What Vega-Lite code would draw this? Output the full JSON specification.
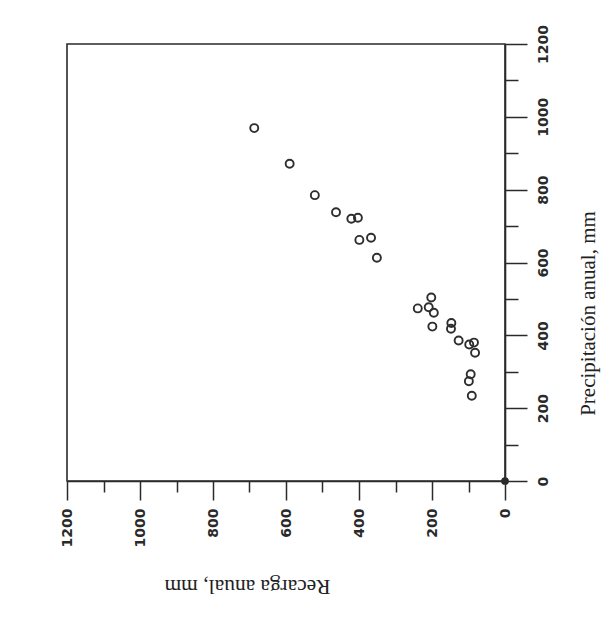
{
  "$schema": "https://vega.github.io/schema/vega-lite/v6.json",
  "width": 438,
  "height": 437,
  "autosize": "none",
  "padding": {"left": 67, "top": 44, "right": 104, "bottom": 143},
  "background": "white",
  "config": {"view": {"stroke": "#2a2a2a", "strokeWidth": 1.6}},
  "encoding": {
    "x": {
      "field": "recarga",
      "type": "quantitative",
      "scale": {"domain": [0, 1200], "reverse": true, "nice": false, "zero": true},
      "axis": {
        "orient": "bottom",
        "values": [0, 100, 200, 300, 400, 500, 600, 700, 800, 900, 1000, 1100, 1200],
        "format": "d",
        "labelExpr": "datum.value % 200 === 0 ? datum.label : ''",
        "labelAngle": 270,
        "labelAlign": "right",
        "labelBaseline": "middle",
        "labelPadding": 8,
        "labelFont": "DejaVu Sans",
        "labelFontSize": 14,
        "labelFontWeight": "bold",
        "labelColor": "#2a2a2a",
        "tickSize": {"condition": {"test": "datum.value % 200 === 0", "value": 19}, "value": 11},
        "tickColor": "#2a2a2a",
        "tickWidth": 1.5,
        "domainColor": "#2a2a2a",
        "domainWidth": 1.6,
        "grid": false,
        "title": "Recarga anual, mm",
        "titleFont": "Liberation Serif",
        "titleFontSize": 21.5,
        "titleFontWeight": "normal",
        "titleColor": "#222222",
        "titleAngle": 180,
        "titleAlign": "center",
        "titleBaseline": "middle",
        "titleX": 180,
        "titleY": 104
      }
    },
    "y": {
      "field": "precip",
      "type": "quantitative",
      "scale": {"domain": [0, 1200], "nice": false, "zero": true},
      "axis": {
        "orient": "right",
        "values": [0, 100, 200, 300, 400, 500, 600, 700, 800, 900, 1000, 1100, 1200],
        "format": "d",
        "labelExpr": "datum.value % 200 === 0 ? datum.label : ''",
        "labelAngle": 270,
        "labelAlign": "center",
        "labelBaseline": "top",
        "labelPadding": 9,
        "labelFont": "DejaVu Sans",
        "labelFontSize": 14,
        "labelFontWeight": "bold",
        "labelColor": "#2a2a2a",
        "tickSize": {"condition": {"test": "datum.value % 200 === 0", "value": 22}, "value": 13},
        "tickColor": "#2a2a2a",
        "tickWidth": 1.5,
        "domainColor": "#2a2a2a",
        "domainWidth": 1.6,
        "grid": false,
        "title": "Precipitación anual, mm",
        "titleFont": "Liberation Serif",
        "titleFontSize": 21,
        "titleFontWeight": "normal",
        "titleColor": "#222222",
        "titleAngle": 270,
        "titleAlign": "center",
        "titleBaseline": "middle",
        "titleX": 83,
        "titleY": 269
      }
    }
  },
  "layer": [
    {
      "data": {
        "values": [
          {"recarga": 687, "precip": 969},
          {"recarga": 590, "precip": 871},
          {"recarga": 521, "precip": 785},
          {"recarga": 463, "precip": 738},
          {"recarga": 421, "precip": 720},
          {"recarga": 403, "precip": 723},
          {"recarga": 399, "precip": 662},
          {"recarga": 367, "precip": 668},
          {"recarga": 351, "precip": 613},
          {"recarga": 239, "precip": 474},
          {"recarga": 202, "precip": 504},
          {"recarga": 209, "precip": 477},
          {"recarga": 195, "precip": 462},
          {"recarga": 199, "precip": 424},
          {"recarga": 147, "precip": 434},
          {"recarga": 148, "precip": 418},
          {"recarga": 127, "precip": 386},
          {"recarga": 98, "precip": 375},
          {"recarga": 85, "precip": 380},
          {"recarga": 82, "precip": 352},
          {"recarga": 94, "precip": 293},
          {"recarga": 99, "precip": 274},
          {"recarga": 91, "precip": 234}
        ]
      },
      "mark": {"type": "point", "shape": "circle", "filled": false, "size": 64, "stroke": "#2e2e2e", "strokeWidth": 1.9, "opacity": 1}
    },
    {
      "data": {"values": [{"recarga": 0, "precip": 0}]},
      "mark": {"type": "point", "shape": "circle", "filled": true, "size": 60, "fill": "#2a2a2a", "opacity": 1, "clip": false}
    }
  ]
}
